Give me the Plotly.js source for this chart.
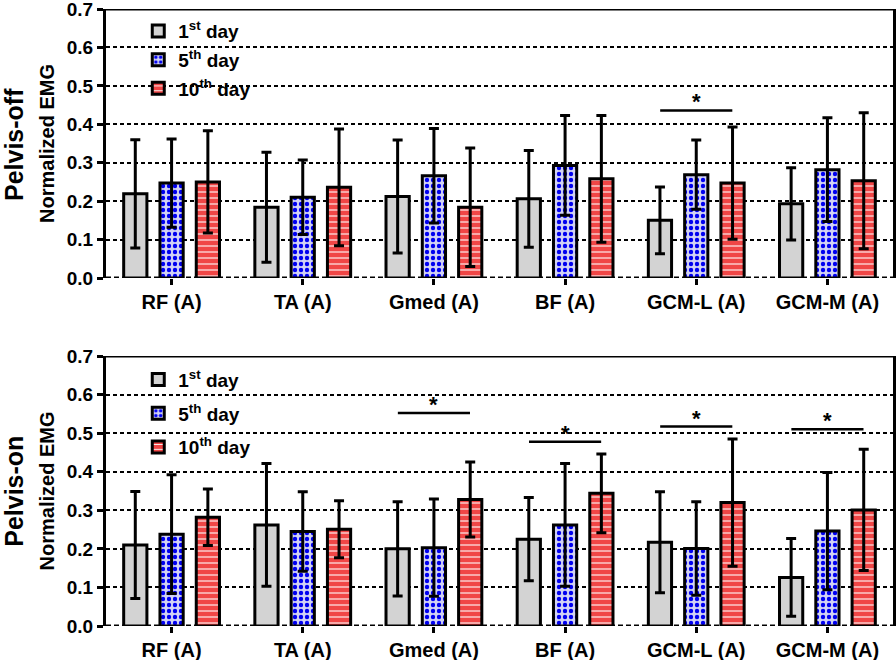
<!DOCTYPE html>
<html>
<head>
<meta charset="utf-8">
<script src="https://cdn.plot.ly/plotly-3.0.1.min.js"></script>
<style>html,body{margin:0;padding:0;background:#fff}#chart{width:896px;height:660px}</style>
</head>
<body>
<div id="chart"></div>
<script>
// ---- data ----
const categories = ['RF (A)', 'TA (A)', 'Gmed (A)', 'BF (A)', 'GCM-L (A)', 'GCM-M (A)'];
const seriesNames = ['1<sup>st</sup> day', '5<sup>th</sup> day', '10<sup>th</sup> day'];

// Pelvis-off
const offDay1 = [0.219, 0.184, 0.212, 0.206, 0.150, 0.193];
const offDay1Err = [0.141, 0.143, 0.147, 0.126, 0.087, 0.094];
const offDay5 = [0.247, 0.210, 0.266, 0.293, 0.269, 0.282];
const offDay5Err = [0.115, 0.097, 0.123, 0.130, 0.090, 0.135];
const offDay10 = [0.250, 0.236, 0.184, 0.258, 0.247, 0.253];
const offDay10Err = [0.133, 0.152, 0.154, 0.165, 0.146, 0.177];

// Pelvis-on
const onDay1 = [0.210, 0.262, 0.200, 0.225, 0.217, 0.126];
const onDay1Err = [0.139, 0.159, 0.122, 0.108, 0.131, 0.101];
const onDay5 = [0.238, 0.245, 0.203, 0.262, 0.201, 0.246];
const onDay5Err = [0.154, 0.103, 0.126, 0.159, 0.121, 0.152];
const onDay10 = [0.282, 0.251, 0.328, 0.344, 0.320, 0.301];
const onDay10Err = [0.073, 0.074, 0.097, 0.102, 0.165, 0.157];

// significance brackets (category, bracket height)
const sigOffCats = ['GCM-L (A)'];
const sigOffY = [0.436];
const sigOnCats = ['Gmed (A)', 'BF (A)', 'GCM-L (A)', 'GCM-M (A)'];
const sigOnY = [0.552, 0.478, 0.517, 0.510];

const panelLabels = ['Pelvis-off', 'Pelvis-on'];
const yTitle = 'Normalized EMG';

// ---- styles ----
const FONT = 'Liberation Sans, Arial, Helvetica, sans-serif';
const RED = '#f04646';
const GREY = '#d3d3d3';
const BLUE = '#0000f0';
const LAV = '#d2d2f4';

const styles = [
  {color: GREY, pattern: {shape: ''}},
  {color: LAV, pattern: {shape: '.', fgcolor: BLUE, bgcolor: LAV, size: 6, solidity: 0.42, fillmode: 'replace'}},
  {color: RED, pattern: {shape: '-', fgcolor: '#ffffff', bgcolor: RED, size: 6, solidity: 0.18, fillmode: 'replace'}}
];

function mk(vals, errs, i, xa, ya, leg) {
  return {
    type: 'bar', x: categories, y: vals, name: seriesNames[i],
    xaxis: xa, yaxis: ya, legend: leg, legendgroup: leg + i,
    marker: {color: styles[i].color, pattern: styles[i].pattern, line: {color: '#000', width: 3}},
    error_y: {type: 'data', array: errs, visible: true, color: '#000', thickness: 3, width: 5},
    hoverinfo: 'x+y'
  };
}

const traces = [
  mk(offDay1, offDay1Err, 0, 'x', 'y', 'legend'),
  mk(offDay5, offDay5Err, 1, 'x', 'y', 'legend'),
  mk(offDay10, offDay10Err, 2, 'x', 'y', 'legend'),
  mk(onDay1, onDay1Err, 0, 'x2', 'y2', 'legend2'),
  mk(onDay5, onDay5Err, 1, 'x2', 'y2', 'legend2'),
  mk(onDay10, onDay10Err, 2, 'x2', 'y2', 'legend2')
];

const half = 0.275;
const shapes = [];
const annotations = [];
function addSig(cats, ys, xr, yr) {
  cats.forEach((c, k) => {
    const i = categories.indexOf(c);
    shapes.push({type: 'line', xref: xr, yref: yr, x0: i - half, x1: i + half, y0: ys[k], y1: ys[k],
      line: {color: '#000', width: 2.5}});
    annotations.push({xref: xr, yref: yr, x: i, y: ys[k], text: '*', showarrow: false,
      yanchor: 'bottom', yshift: -6, font: {family: FONT, size: 22, color: '#000', weight: 'bold'}});
  });
}
addSig(sigOffCats, sigOffY, 'x', 'y');
addSig(sigOnCats, sigOnY, 'x2', 'y2');

// frame top lines and dashed base lines
[['x', 'y'], ['x2', 'y2']].forEach(([xa, ya]) => {
  shapes.push({type: 'line', xref: xa + ' domain', yref: ya, x0: 0, x1: 1, y0: 0.7, y1: 0.7,
    line: {color: '#000', width: 3}});
  shapes.push({type: 'line', xref: xa + ' domain', yref: ya, x0: 0, x1: 1, y0: 0, y1: 0, layer: 'below',
    line: {color: '#000', width: 3, dash: '5px,3px'}});
});

annotations.push({xref: 'paper', yref: 'paper', x: -0.117, y: 0.781, xanchor: 'center', yanchor: 'middle',
  text: panelLabels[0], textangle: -90,
  showarrow: false, font: {family: FONT, size: 25, color: '#000', weight: 'bold'}});
annotations.push({xref: 'paper', yref: 'paper', x: -0.117, y: 0.219, xanchor: 'center', yanchor: 'middle',
  text: panelLabels[1], textangle: -90,
  showarrow: false, font: {family: FONT, size: 25, color: '#000', weight: 'bold'}});

const yax = (dom) => ({
  domain: dom, range: [0, 0.70001], dtick: 0.1, tick0: 0, tickformat: '.1f',
  showgrid: true, gridcolor: '#000', gridwidth: 2, griddash: '4px,3px',
  zeroline: false, showline: true, linecolor: '#000', linewidth: 3, mirror: true,
  ticks: 'outside', ticklen: 6, tickwidth: 3, tickcolor: '#000', ticklabeloverflow: 'allow',
  tickfont: {family: FONT, size: 19, color: '#000', weight: 'bold'},
  title: {text: yTitle, standoff: 7, font: {family: FONT, size: 20, color: '#000', weight: 'bold'}},
  fixedrange: true
});
const xax = (anchor) => ({
  anchor: anchor, type: 'category', range: [-0.5, 5.5], showgrid: false, zeroline: false, showline: false,
  ticks: 'outside', ticklen: 6, tickwidth: 3, tickcolor: '#000',
  tickfont: {family: FONT, size: 20, color: '#000', weight: 'bold'}, fixedrange: true
});

const legendStyle = (y, gap) => ({
  x: 0.041, xanchor: 'left', y: y, yanchor: 'top', bgcolor: 'rgba(0,0,0,0)',
  font: {family: FONT, size: 19, color: '#000', weight: 'bold'}, tracegroupgap: gap,
  itemclick: false, itemdoubleclick: false
});

const layout = {
  width: 896, height: 660,
  margin: {l: 106, r: 3, t: 9, b: 34},
  paper_bgcolor: '#fff', plot_bgcolor: '#fff',
  font: {family: FONT, color: '#000', weight: 'bold'},
  barmode: 'group', bargap: 0.17, bargroupgap: 0.36,
  showlegend: true,
  legend: legendStyle(0.995, 1),
  legend2: legendStyle(0.43, 6),
  xaxis: xax('y'), yaxis: yax([0.564, 1]),
  xaxis2: xax('y2'), yaxis2: yax([0, 0.4376]),
  shapes: shapes, annotations: annotations
};

Plotly.newPlot('chart', traces, layout, {displayModeBar: false, staticPlot: true});
</script>
</body>
</html>
